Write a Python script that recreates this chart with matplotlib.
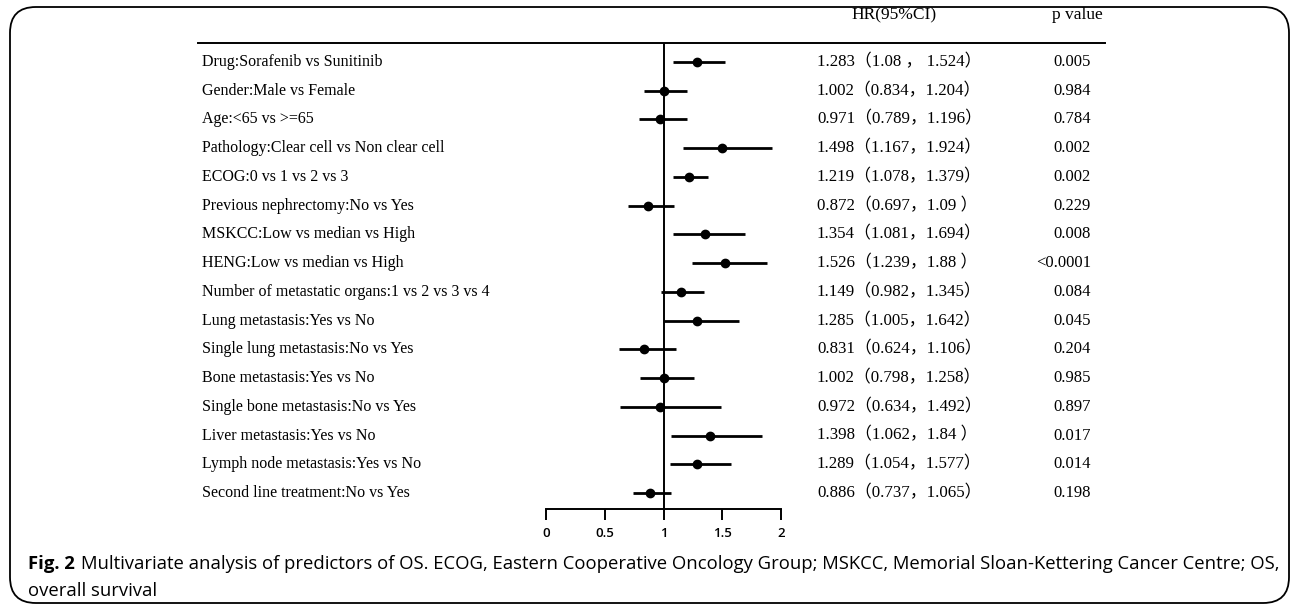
import matplotlib
matplotlib.use("Agg")
import matplotlib.pyplot as plt
from matplotlib.patches import FancyBboxPatch
import matplotlib.transforms as mtransforms

labels = [
    "Drug:Sorafenib vs Sunitinib",
    "Gender:Male vs Female",
    "Age:<65 vs >=65",
    "Pathology:Clear cell vs Non clear cell",
    "ECOG:0 vs 1 vs 2 vs 3",
    "Previous nephrectomy:No vs Yes",
    "MSKCC:Low vs median vs High",
    "HENG:Low vs median vs High",
    "Number of metastatic organs:1 vs 2 vs 3 vs 4",
    "Lung metastasis:Yes vs No",
    "Single lung metastasis:No vs Yes",
    "Bone metastasis:Yes vs No",
    "Single bone metastasis:No vs Yes",
    "Liver metastasis:Yes vs No",
    "Lymph node metastasis:Yes vs No",
    "Second line treatment:No vs Yes",
]
hr = [1.283, 1.002, 0.971, 1.498, 1.219, 0.872, 1.354, 1.526, 1.149, 1.285,
      0.831, 1.002, 0.972, 1.398, 1.289, 0.886]
ci_low = [1.08, 0.834, 0.789, 1.167, 1.078, 0.697, 1.081, 1.239, 0.982, 1.005,
          0.624, 0.798, 0.634, 1.062, 1.054, 0.737]
ci_high = [1.524, 1.204, 1.196, 1.924, 1.379, 1.09, 1.694, 1.88, 1.345, 1.642,
           1.106, 1.258, 1.492, 1.84, 1.577, 1.065]
hr_text = [
    "1.283（1.08 ， 1.524）",
    "1.002（0.834，1.204）",
    "0.971（0.789，1.196）",
    "1.498（1.167，1.924）",
    "1.219（1.078，1.379）",
    "0.872（0.697，1.09 ）",
    "1.354（1.081，1.694）",
    "1.526（1.239，1.88 ）",
    "1.149（0.982，1.345）",
    "1.285（1.005，1.642）",
    "0.831（0.624，1.106）",
    "1.002（0.798，1.258）",
    "0.972（0.634，1.492）",
    "1.398（1.062，1.84 ）",
    "1.289（1.054，1.577）",
    "0.886（0.737，1.065）",
]
p_values = ["0.005", "0.984", "0.784", "0.002", "0.002", "0.229", "0.008", "<0.0001",
            "0.084", "0.045", "0.204", "0.985", "0.897", "0.017", "0.014", "0.198"]
xticks = [0, 0.5, 1, 1.5, 2]
xticklabels = ["0", "0.5", "1", "1.5", "2"]

W, H = 1292, 607
fig = plt.figure(figsize=(W / 100, H / 100), dpi=100)

def fx(px):
    return px / W

def fy(py):
    return 1 - py / H

serif = ["Liberation Serif", "Noto Sans CJK SC", "DejaVu Serif"]

# axes geometry (pixels)
ax_l, ax_r = 546, 781
ax_t, ax_b = 43, 509
row0, rowN = 62, 493
n = len(labels)
step = (rowN - row0) / (n - 1)
ax = fig.add_axes([fx(ax_l), fy(ax_b), fx(ax_r - ax_l), (ax_b - ax_t) / H])
ax.set_xlim(0, 2)
ax.set_ylim(n - 1 + (ax_b - rowN) / step, -(row0 - ax_t) / step)

ys = list(range(n))
ax.hlines(ys, ci_low, ci_high, color="black", lw=2.0)
ax.plot(hr, ys, "o", color="black", ms=6, mec="black")
ax.axvline(1, color="black", lw=1.4)

for s in ["top", "right", "left"]:
    ax.spines[s].set_visible(False)
ax.spines["bottom"].set_linewidth(1.4)
ax.set_yticks([])
ax.set_xticks(xticks)
ax.set_xticklabels(xticklabels, fontfamily="Open Sans", fontweight="semibold", fontsize=9.5)
ax.tick_params(axis="x", direction="out", length=8, width=1.4, pad=5)
ax.patch.set_alpha(0)

trans = mtransforms.blended_transform_factory(fig.transFigure, ax.transData)
for i in range(n):
    ax.text(fx(202), i, labels[i], transform=trans, ha="left", va="center",
            fontsize=11.5, family=serif, clip_on=False)
    ax.text(fx(817), i, hr_text[i], transform=trans, ha="left", va="center",
            fontsize=12.2, family=serif, clip_on=False)
    ax.text(fx(1091), i, p_values[i], transform=trans, ha="right", va="center",
            fontsize=12, family=serif, clip_on=False)

# header
fig.text(fx(894), fy(15), "HR(95%CI)", ha="center", va="center", fontsize=12.5, family=serif)
fig.text(fx(1077), fy(15), "p value", ha="center", va="center", fontsize=12.5, family=serif)
fig.add_artist(plt.Line2D([fx(198), fx(1105)], [fy(43), fy(43)], color="black", lw=1.4))

# rounded border
box = FancyBboxPatch((fx(10), fy(603)), fx(1289 - 10), (603 - 7) / H,
                     boxstyle="round,pad=0,rounding_size=0.02", transform=fig.transFigure,
                     fill=False, ec="black", lw=1.3, mutation_aspect=W / H)
fig.add_artist(box)

# caption
cap1 = ("Multivariate analysis of predictors of OS. ECOG, Eastern Cooperative Oncology Group; "
        "MSKCC, Memorial Sloan-Kettering Cancer Centre; OS,")
cfs = 13.3
t = fig.text(fx(28), fy(564), "Fig. 2", ha="left", va="center", fontsize=cfs,
             family="Open Sans", fontweight="bold")
fig.canvas.draw()
bb = t.get_window_extent()
fig.text(bb.x1 / W + fx(6), fy(564), cap1, ha="left", va="center", fontsize=cfs,
         family="Open Sans")
fig.text(fx(28), fy(591), "overall survival", ha="left", va="center", fontsize=cfs,
         family="Open Sans")

fig.savefig("out.png", dpi=100)
